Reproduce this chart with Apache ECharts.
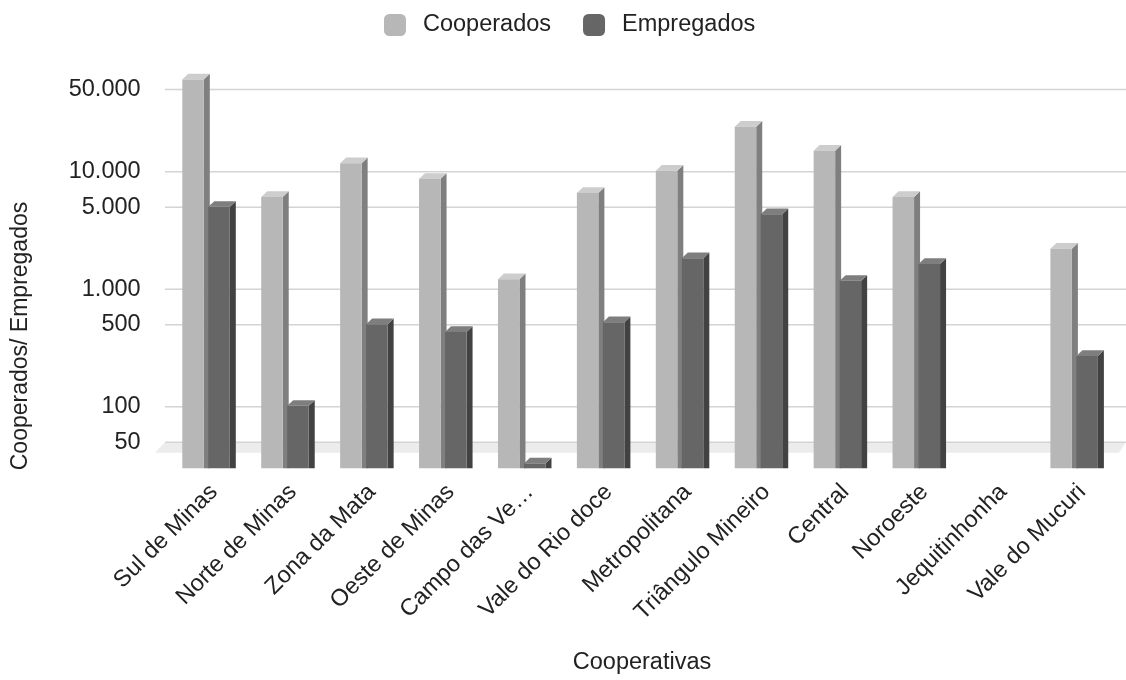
<!DOCTYPE html>
<html>
<head>
<meta charset="utf-8">
<script src="https://cdn.jsdelivr.net/npm/echarts@6/dist/echarts.min.js"></script>
<style>
html, body { margin: 0; padding: 0; background: #fff; }
#chart { width: 1126px; height: 680px; }
</style>
</head>
<body>
<div id="chart"></div>
<script>
const categories = ['Sul de Minas', 'Norte de Minas', 'Zona da Mata', 'Oeste de Minas', 'Campo das Ve…', 'Vale do Rio doce', 'Metropolitana', 'Triângulo Mineiro', 'Central', 'Noroeste', 'Jequitinhonha', 'Vale do Mucuri'];
const cooperados = [61000, 6100, 11800, 8700, 1220, 6600, 10200, 24200, 15100, 6100, null, 2210];
const empregados = [5030, 102, 505, 434, 33, 524, 1840, 4350, 1180, 1640, null, 271];
const yTickValues = [50, 100, 500, 1000, 5000, 10000, 50000];
const yTickLabels = ['50', '100', '500', '1.000', '5.000', '10.000', '50.000'];

const FONT = "'Liberation Sans', Arial, sans-serif";
const FS = 23.5;
const TXT = '#222222';
const GRID_LEFT = 166.6, GRID_W = 947, GRID_TOP = 54.2, GRID_H = 414.1;

function barRender(offsetFrac, colors) {
  return function (params, api) {
    const v = api.value(1);
    if (v == null || isNaN(v)) return null;
    const cs = params.coordSys;
    const pt = api.coord([api.value(0), v]);
    const base = cs.y + cs.height;
    const band = cs.width / categories.length;
    const w = band * 0.2725;
    const x0 = pt[0] + band * offsetFrac;
    const yt = pt[1];
    const dx = 6, dy = 5.7;
    return {
      type: 'group',
      children: [
        { type: 'polygon', shape: { points: [[x0 + w, yt], [x0 + w + dx, yt - dy], [x0 + w + dx, base], [x0 + w, base]] }, style: { fill: colors.side } },
        { type: 'polygon', shape: { points: [[x0, yt], [x0 + w, yt], [x0 + w + dx, yt - dy], [x0 + dx, yt - dy]] }, style: { fill: colors.top } },
        { type: 'rect', shape: { x: x0, y: yt, width: w, height: base - yt }, style: { fill: colors.front } }
      ]
    };
  };
}

const chart = echarts.init(document.getElementById('chart'), null, { renderer: 'canvas' });
chart.setOption({
  animation: false,
  backgroundColor: '#ffffff',
  legend: {
    data: ['Cooperados', 'Empregados'],
    left: 379, top: 8,
    itemWidth: 22, itemHeight: 22, itemGap: 32,
    icon: 'roundRect',
    textStyle: { fontSize: FS, color: TXT, fontFamily: FONT, padding: [0, 0, 0, 12] }
  },
  grid: [
    { left: GRID_LEFT, width: GRID_W, top: GRID_TOP, height: GRID_H, outerBoundsMode: 'none', containLabel: false },
    { left: GRID_LEFT + 8, width: GRID_W, top: GRID_TOP, height: GRID_H, outerBoundsMode: 'none', containLabel: false }
  ],
  xAxis: [
    { type: 'category', gridIndex: 0, data: categories, show: false },
    { type: 'category', gridIndex: 1, data: categories,
      axisLine: { show: false }, axisTick: { show: false }, splitLine: { show: false },
      axisLabel: { interval: 0, rotate: 45, margin: 20, fontSize: FS, color: TXT, fontFamily: FONT } }
  ],
  yAxis: [
    { type: 'log', logBase: 10, gridIndex: 0, min: 30, max: 100000, show: false },
    { type: 'value', gridIndex: 1, show: false }
  ],
  graphic: [
    { type: 'text', x: 21, y: 336, rotation: Math.PI / 2,
      style: { text: 'Cooperados/ Empregados', fontSize: 23, fontFamily: FONT, fill: TXT, align: 'center', verticalAlign: 'middle' } },
    { type: 'text', x: 642, y: 663,
      style: { text: 'Cooperativas', fontSize: FS, fontFamily: FONT, fill: TXT, align: 'center', verticalAlign: 'middle' } }
  ],
  series: [
    {
      name: 'floor', type: 'custom', xAxisIndex: 0, yAxisIndex: 0, silent: true,
      data: [[0, yTickValues[0]]],
      renderItem: function (params, api) {
        const cs = params.coordSys;
        const y = api.coord([0, api.value(1)])[1];
        return { type: 'polygon', shape: { points: [[cs.x - 1.6, y], [1126, y], [1119, y + 10.6], [cs.x - 11.6, y + 10.6]] }, style: { fill: '#ececec' } };
      }
    },
    {
      name: 'gridlines', type: 'custom', xAxisIndex: 0, yAxisIndex: 0, silent: true,
      data: yTickValues.map(v => [0, v]),
      renderItem: function (params, api) {
        const cs = params.coordSys;
        const y = api.coord([0, api.value(1)])[1];
        return {
          type: 'group',
          children: [
            { type: 'line', shape: { x1: cs.x - 1.6, y1: y, x2: 1126, y2: y }, style: { stroke: '#d4d4d4', lineWidth: 1.5 } },
            { type: 'text', x: cs.x - 26, y: y, style: { text: yTickLabels[params.dataIndex], fontSize: FS, fontFamily: FONT, fill: TXT, align: 'right', verticalAlign: 'middle' } }
          ]
        };
      }
    },
    {
      name: 'Cooperados', type: 'custom', xAxisIndex: 0, yAxisIndex: 0,
      itemStyle: { color: '#b7b7b7' },
      data: cooperados.map((v, i) => [i, v]),
      renderItem: barRender(-0.301, { front: '#b7b7b7', side: '#7f7f7f', top: '#cdcdcd' })
    },
    {
      name: 'Empregados', type: 'custom', xAxisIndex: 0, yAxisIndex: 0,
      itemStyle: { color: '#666666' },
      data: empregados.map((v, i) => [i, v]),
      renderItem: barRender(0.0285, { front: '#666666', side: '#424242', top: '#7e7e7e' })
    }
  ]
});
</script>
</body>
</html>
